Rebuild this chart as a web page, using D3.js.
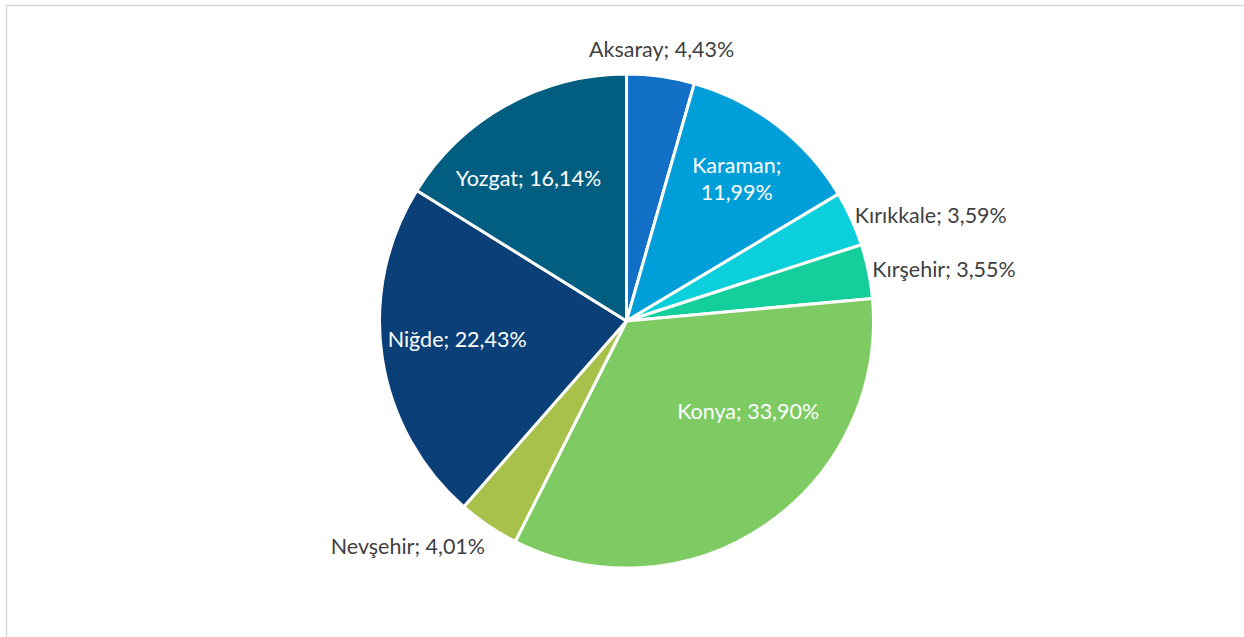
<!DOCTYPE html>
<html><head><meta charset="utf-8">
<script src="https://cdn.jsdelivr.net/npm/d3@7"></script>
<style>html,body{margin:0;padding:0;background:#fff;}svg{display:block;}</style>
</head><body>
<svg id="chart" width="1244" height="637"></svg>
<script>
const categories = ["Aksaray","Karaman","Kırıkkale","Kırşehir","Konya","Nevşehir","Niğde","Yozgat"];
const values = [4.43, 11.99, 3.59, 3.55, 33.90, 4.01, 22.43, 16.14];
const labels = ["4,43%","11,99%","3,59%","3,55%","33,90%","4,01%","22,43%","16,14%"];
const colors = ["#116fc6","#009fd9","#0ccfdc","#14cf9b","#7ecb63","#a7c14a","#0a4077","#025e80"];

const svg = d3.select("#chart");
const W = 1244, H = 637;
svg.append("rect").attr("x",6.5).attr("y",5.5).attr("width",W+20).attr("height",H+20)
  .attr("fill","#fff").attr("stroke","#d9d9d9").attr("stroke-width",1.5);

const cx = 626.5, cy = 321, R = 247;
const data = categories.map((c,i)=>({name:c, value:values[i], label:labels[i], color:colors[i]}));
const pie = d3.pie().value(d=>d.value).sort(null);
const arcs = pie(data);
const arc = d3.arc().innerRadius(0).outerRadius(R);
const g = svg.append("g").attr("transform",`translate(${cx},${cy})`);
g.selectAll("path").data(arcs).join("path")
  .attr("d",arc).attr("fill",d=>d.data.color)
  .attr("stroke","#fff").attr("stroke-width",3).attr("stroke-linejoin","round");

const font = "Lato, 'Open Sans', sans-serif";
const fs = 21.5;
const mid = d => (d.startAngle+d.endAngle)/2;
const pt = (a,r) => [Math.sin(a)*r, -Math.cos(a)*r];
// label layout nudges (angle shift in degrees, radius factor)
const inLayout = {Karaman:[0.5,0.725], Konya:[-19,0.615], "Niğde":[2,0.69], Yozgat:[-5.5,0.70]};

arcs.forEach(d=>{
  const inside = d.data.value > 10;
  const a = mid(d);
  if (inside) {
    const lay = inLayout[d.data.name] || [0,0.7];
    const [x,y] = pt(a + lay[0]*Math.PI/180, R*lay[1]);
    const t = g.append("text").attr("text-anchor","middle").attr("fill","#fff")
      .style("font-family",font).style("font-size",fs+"px");
    if (d.data.name === "Karaman") {
      t.append("tspan").attr("x",x).attr("y",y-14+7).text(d.data.name+";");
      t.append("tspan").attr("x",x).attr("y",y+13+7).text(d.data.label);
    } else {
      t.attr("x",x).attr("y",y+7).text(d.data.name+"; "+d.data.label);
    }
  } else {
    const [x,y] = pt(a, R+6);
    let anchor, dy, dx = 0;
    if (Math.cos(a) > 0.9) { anchor = "middle"; dy = -13; }
    else if (Math.sin(a) > 0) { anchor = "start"; dy = 7; dx = -2; }
    else { anchor = "end"; dy = 23; }
    g.append("text").attr("x", x+dx).attr("y", y+dy)
      .attr("text-anchor",anchor).attr("fill","#404040")
      .style("font-family",font).style("font-size",fs+"px")
      .text(d.data.name+"; "+d.data.label);
  }
});
</script>
</body></html>
